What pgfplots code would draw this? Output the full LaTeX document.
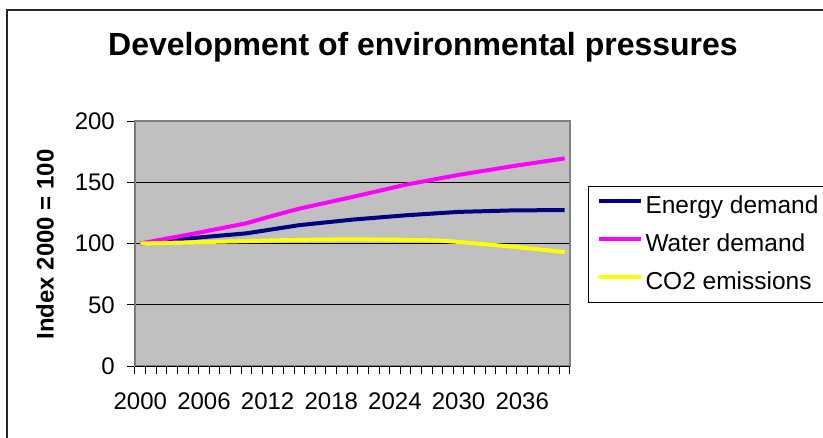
\documentclass[border=0pt]{standalone}
\usepackage{fontspec}
\setmainfont{Liberation Sans}
\usepackage{pgfplots}
\pgfplotsset{compat=1.18}

\definecolor{plotgray}{HTML}{C0C0C0}
\definecolor{bordergray}{HTML}{808080}
\definecolor{energyc}{HTML}{000080}
\definecolor{waterc}{HTML}{FF00FF}
\definecolor{co2c}{HTML}{FFFF00}

\begin{document}
\begin{tikzpicture}
\useasboundingbox (0pt,0pt) rectangle (823pt,437pt);
% chart frame (right and bottom edges fall outside the picture)
\draw[black!85, line width=1.5pt] (7pt,-5pt) -- (7pt,427pt) -- (830pt,427pt);
\node[anchor=base, font=\fontsize{32}{38}\selectfont\bfseries] at (423pt,381pt)
  {Development of environmental pressures};
\begin{axis}[
    at={(135pt,71pt)}, anchor=south west,
    scale only axis, width=435pt, height=245pt,
    xmin=1999.5, xmax=2040.5,
    ymin=0, ymax=200,
    ytick={0,50,...,200},
    xtick={1999.5,2000.5,...,2040.5},
    xticklabels={},
    extra x ticks={2000,2006,...,2036},
    extra x tick style={major tick length=0pt, grid=none},
    /pgf/number format/set thousands separator={},
    /pgf/number format/assume math mode=true,
    tick align=outside,
    major tick length=8pt,
    tick style={black, line width=1pt},
    xtick pos=bottom, ytick pos=left,
    ymajorgrids,
    grid style={black, line width=1pt},
    axis background/.style={fill=plotgray},
    axis line style={draw=bordergray, line width=2pt},
    tick label style={font=\fontsize{24}{28}\selectfont},
    yticklabel style={inner sep=0pt, anchor=east, xshift=-12pt},
    xticklabel style={inner sep=0pt, anchor=north, yshift=-27pt},
    ylabel={Index 2000 = 100},
    ylabel style={at={(axis description cs:-0.207,0.496)}, anchor=center,
      rotate=0, font=\fontsize{24}{28}\selectfont\bfseries},
    legend cell align=left,
    legend image code/.code={\draw[#1, line width=4pt] (0pt,6pt) -- (42pt,6pt);},
    legend style={at={(axis description cs:1.0414,0.7347)}, anchor=north west,
      draw=black, line width=1pt, inner xsep=8pt, inner ysep=8pt,
      font=\fontsize{24.5}{29}\selectfont, row sep=14pt,
      nodes={inner sep=0pt, text height=19pt, text depth=5pt},
      /tikz/every odd column/.append style={column sep=3pt}},
    every axis plot/.append style={line width=4pt, line join=round, no markers},
]
\addplot[energyc] coordinates {
  (2000,100) (2005,104.5) (2010,108.3) (2015,115) (2020,119.5)
  (2025,123) (2030,125.8) (2035,127) (2040,127.3)};
\addplot[waterc] coordinates {
  (2000,100) (2005,108) (2010,116.5) (2012,121.5) (2015,128.5)
  (2020,138) (2025,148) (2030,156) (2035,163) (2040,169.5)};
\addplot[co2c] coordinates {
  (2000,100) (2005,101) (2010,102) (2015,103) (2020,103.4)
  (2025,103) (2028,102.5) (2030,101.3) (2033,99) (2035,97.5) (2040,93)};
\legend{Energy demand, Water demand, CO2 emissions}
\draw[black, line width=1pt] (rel axis cs:0,1) -- (rel axis cs:0,0) -- (rel axis cs:1,0);
\end{axis}
\end{tikzpicture}
\end{document}
